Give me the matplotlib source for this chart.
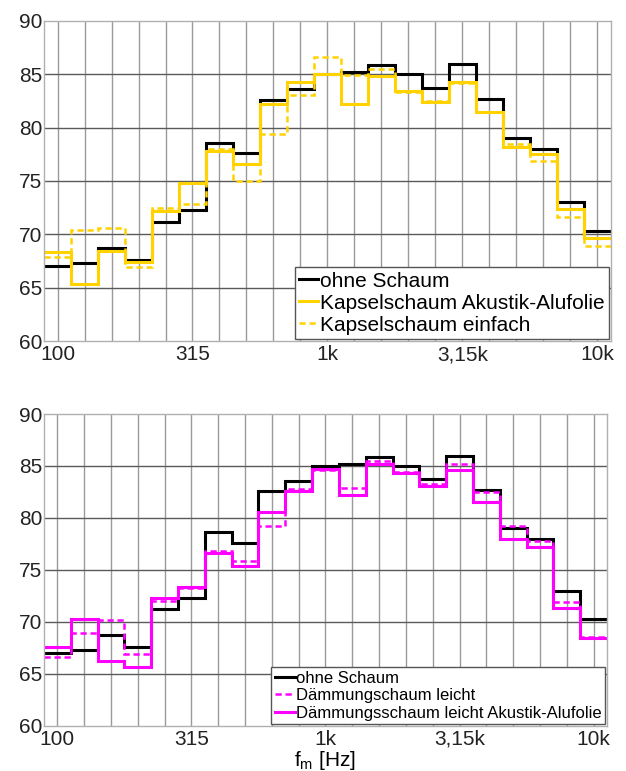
import numpy as np
import matplotlib.pyplot as plt

plt.rcParams['font.family'] = ['Liberation Sans', 'DejaVu Sans']
plt.rcParams['mathtext.default'] = 'regular'

# third-octave band centre frequencies (nominal, Hz)
bands = [100, 125, 160, 200, 250, 315, 400, 500, 630, 800, 1000,
         1250, 1600, 2000, 2500, 3150, 4000, 5000, 6300, 8000, 10000]
tick_bands = [100, 315, 1000, 3150, 10000]
tick_labels = ['100', '315', '1k', '3,15k', '10k']

# band levels in dB
ohne_schaum = [67.0, 67.3, 68.7, 67.6, 71.2, 72.3, 78.6, 77.6, 82.6, 83.6, 85.0,
               85.2, 85.9, 85.0, 83.7, 86.0, 82.7, 79.0, 78.0, 73.0, 70.3]
kapsel_alu = [68.3, 65.3, 68.4, 67.4, 72.2, 74.8, 77.8, 76.6, 82.2, 84.3, 85.0,
              82.2, 84.8, 83.4, 82.4, 84.3, 81.5, 78.2, 77.5, 72.4, 69.7]
kapsel_einfach = [67.9, 70.4, 70.6, 66.9, 72.5, 72.8, 78.0, 75.0, 79.4, 83.1, 86.6,
                  84.9, 85.5, 83.3, 82.5, 84.2, 81.5, 78.5, 76.9, 71.6, 68.9]
daemm_leicht = [66.6, 68.9, 70.2, 66.9, 72.0, 73.3, 76.8, 75.9, 79.2, 82.8, 84.6,
                82.9, 85.5, 84.4, 83.3, 85.2, 82.5, 79.2, 77.8, 71.9, 68.5]
daemm_alu = [67.6, 70.3, 66.2, 65.7, 72.3, 73.4, 76.6, 75.4, 80.6, 82.6, 84.7,
             82.2, 85.2, 84.3, 83.1, 84.6, 81.5, 78.0, 77.2, 71.3, 68.4]

# exact base-2 band centres and edges
k = np.round(3 * np.log2(np.array(bands) / 1000.0))
centres = 1000.0 * 2 ** (k / 3)
edges = 1000.0 * 2 ** ((np.append(k, k[-1] + 1) - 0.5) / 3)
tick_pos = [centres[bands.index(b)] for b in tick_bands]

YELLOW = '#FFD200'
MAGENTA = '#FF00FF'
DASH = (0, (2.5, 1.5))

fig = plt.figure(figsize=(6.26, 7.71), dpi=100)
ax1 = fig.add_axes([0.0703, 0.5577, 0.9057, 0.4151])
ax2 = fig.add_axes([0.0703, 0.0587, 0.8993, 0.4043])


def setup(ax):
    ax.set_xscale('log')
    ax.set_xlim(edges[0], edges[-1])
    ax.set_ylim(60, 90)
    ax.set_yticks(range(60, 91, 5))
    ax.set_xticks(tick_pos)
    ax.set_xticklabels(tick_labels)
    ax.set_xticks(centres, minor=True)
    ax.xaxis.set_minor_formatter(plt.NullFormatter())
    ax.tick_params(which='both', length=0, labelsize=15, colors='#222222', pad=3)
    ax.tick_params(axis='y', pad=1)
    for x in centres:
        ax.axvline(x, color='#9a9a9a', lw=1.0, zorder=0)
    for y in range(65, 90, 5):
        ax.axhline(y, color='#5a5a5a', lw=1.0, zorder=0)
    for s in ax.spines.values():
        s.set_color('#b0b0b0')
        s.set_linewidth(1.0)


setup(ax1)
ax1.stairs(ohne_schaum, edges, baseline=None, color='black', lw=2.2, label='ohne Schaum')
ax1.stairs(kapsel_alu, edges, baseline=None, color=YELLOW, lw=2.2,
           label='Kapselschaum Akustik-Alufolie')
ax1.stairs(kapsel_einfach, edges, baseline=None, color=YELLOW, lw=1.8, linestyle=DASH,
           label='Kapselschaum einfach')
leg1 = ax1.legend(loc='lower right', fontsize=15, handlelength=0.9, handletextpad=0.1,
                  borderpad=0.2, labelspacing=0.15, borderaxespad=0.1, fancybox=False,
                  framealpha=1, edgecolor='#555555')
leg1.get_frame().set_linewidth(1.0)

setup(ax2)
ax2.stairs(ohne_schaum, edges, baseline=None, color='black', lw=2.2, label='ohne Schaum')
ax2.stairs(daemm_leicht, edges, baseline=None, color=MAGENTA, lw=1.8, linestyle=DASH,
           label='Dämmungschaum leicht')
ax2.stairs(daemm_alu, edges, baseline=None, color=MAGENTA, lw=2.2,
           label='Dämmungsschaum leicht Akustik-Alufolie')
leg2 = ax2.legend(loc='lower right', fontsize=12, handlelength=1.2, handletextpad=0.1,
                  borderpad=0.2, labelspacing=0.15, borderaxespad=0.1, fancybox=False,
                  framealpha=1, edgecolor='#555555')
leg2.get_frame().set_linewidth(1.0)
ax2.set_xlabel('f$_m$ [Hz]', fontsize=15, labelpad=0, x=0.5)

fig.savefig('out.png', dpi=100)
